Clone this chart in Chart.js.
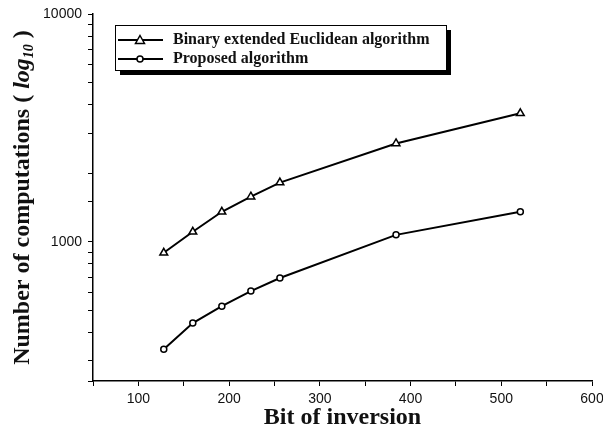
<!DOCTYPE html>
<html>
<head>
<meta charset="utf-8">
<script src="https://cdn.jsdelivr.net/npm/chart.js@4.4.0/dist/chart.umd.min.js"></script>
<style>
  html, body { margin: 0; padding: 0; background: #fff; }
  #wrap { width: 603px; height: 435px; }
</style>
</head>
<body>
<div id="wrap"><canvas id="chart" width="603" height="435"></canvas></div>
<script>
// values
var bits = [128, 160, 192, 224, 256, 384, 521];
var binaryExtended = [895, 1107, 1355, 1579, 1820, 2703, 3664];
var proposed = [338, 440, 522, 608, 694, 1073, 1355];
var xLabels = [100, 200, 300, 400, 500, 600];
var yLabels = [1000, 10000];
var seriesNames = ['Binary extended Euclidean algorithm', 'Proposed algorithm'];

function toPoints(xs, ys) {
    return xs.map(function(x, i) { return { x: x, y: ys[i] }; });
}

// legend box drawn inside the plot, like the original
var boxLegend = {
    id: 'boxLegend',
    afterDraw: function(chart) {
        var ctx = chart.ctx;
        var bx = 115, by = 25, bw = 331, bh = 45;
        ctx.save();
        ctx.fillStyle = '#000';
        ctx.fillRect(bx + 5, by + 5, bw, bh);
        ctx.fillStyle = '#fff';
        ctx.fillRect(bx, by, bw, bh);
        ctx.strokeStyle = '#000';
        ctx.lineWidth = 1;
        ctx.strokeRect(bx + 0.5, by + 0.5, bw, bh);
        var rows = [40, 59];
        chart.data.datasets.forEach(function(ds, i) {
            var y = rows[i];
            ctx.strokeStyle = '#000';
            ctx.lineWidth = 2;
            ctx.beginPath();
            ctx.moveTo(118, y);
            ctx.lineTo(163, y);
            ctx.stroke();
            ctx.fillStyle = '#fff';
            ctx.lineWidth = 1.5;
            ctx.beginPath();
            if (ds.pointStyle === 'triangle') {
                ctx.moveTo(140, y - 4.5);
                ctx.lineTo(144.5, y + 3.5);
                ctx.lineTo(135.5, y + 3.5);
                ctx.closePath();
            } else {
                ctx.arc(140, y, 3, 0, Math.PI * 2);
            }
            ctx.fill();
            ctx.stroke();
            ctx.fillStyle = '#111';
            ctx.font = 'bold 16px "Liberation Serif"';
            ctx.textBaseline = 'middle';
            ctx.fillText(ds.label, 173, y);
        });
        ctx.restore();
    }
};

// y title with italic log and subscript 10
var yTitle = {
    id: 'yTitle',
    afterDraw: function(chart) {
        var ctx = chart.ctx;
        var area = chart.chartArea;
        var parts = [
            { t: 'Number of computations ( ', f: 'bold 24px "Liberation Serif"', dy: 0 },
            { t: 'log', f: 'italic bold 24px "Liberation Serif"', dy: 0 },
            { t: '10', f: 'italic bold 14px "Liberation Serif"', dy: 6 },
            { t: ' )', f: 'bold 24px "Liberation Serif"', dy: 0 }
        ];
        ctx.save();
        var total = 0;
        parts.forEach(function(p) { ctx.font = p.f; p.w = ctx.measureText(p.t).width; total += p.w; });
        ctx.translate(23, (area.top + area.bottom) / 2);
        ctx.rotate(-Math.PI / 2);
        ctx.fillStyle = '#111';
        ctx.textBaseline = 'middle';
        var x = -total / 2;
        parts.forEach(function(p) {
            ctx.font = p.f;
            ctx.fillText(p.t, x, p.dy);
            x += p.w;
        });
        ctx.restore();
    }
};

var ctx = document.getElementById('chart').getContext('2d');
new Chart(ctx, {
    type: 'line',
    data: {
        datasets: [{
            label: seriesNames[0],
            data: toPoints(bits, binaryExtended),
            borderColor: '#000',
            borderWidth: 2,
            backgroundColor: '#fff',
            pointStyle: 'triangle',
            pointRadius: 4.5,
            pointBorderWidth: 1.5,
            pointBackgroundColor: '#fff',
            tension: 0
        }, {
            label: seriesNames[1],
            data: toPoints(bits, proposed),
            borderColor: '#000',
            borderWidth: 2,
            backgroundColor: '#fff',
            pointStyle: 'circle',
            pointRadius: 3,
            pointBorderWidth: 1.5,
            pointBackgroundColor: '#fff',
            tension: 0
        }]
    },
    options: {
        responsive: false,
        animation: false,
        devicePixelRatio: 1,
        layout: { padding: { top: 14, right: 11, left: 0, bottom: 0 } },
        plugins: { legend: { display: false }, tooltip: { enabled: false } },
        scales: {
            x: {
                type: 'linear',
                min: 50,
                max: 600,
                afterFit: function(s) { s.height = 54; s.paddingRight = 0; s.paddingLeft = 0; },
                border: { color: '#000', width: 1.5 },
                grid: { display: true, drawOnChartArea: false, drawTicks: true, tickLength: 5, color: '#000' },
                ticks: {
                    stepSize: 50,
                    color: '#111',
                    font: { family: '"Liberation Sans"', size: 14 },
                    maxRotation: 0,
                    padding: 5,
                    callback: function(v) { return xLabels.indexOf(v) >= 0 ? String(v) : ''; }
                },
                title: {
                    display: true,
                    text: 'Bit of inversion',
                    color: '#111',
                    font: { family: '"Liberation Serif"', size: 24, weight: 'bold' },
                    padding: { top: 0, bottom: 3 }
                }
            },
            y: {
                type: 'logarithmic',
                min: 245,
                max: 10000,
                afterFit: function(s) { s.width = 93; s.paddingTop = 0; s.paddingBottom = 0; },
                border: { color: '#000', width: 1.5 },
                grid: { display: true, drawOnChartArea: false, drawTicks: true, tickLength: 5, color: '#000' },
                ticks: {
                    color: '#111',
                    font: { family: '"Liberation Sans"', size: 14 },
                    padding: 6,
                    autoSkip: false,
                    callback: function(v) { return yLabels.indexOf(v) >= 0 ? String(v) : ''; }
                }
            }
        }
    },
    plugins: [boxLegend, yTitle]
});
</script>
</body>
</html>
